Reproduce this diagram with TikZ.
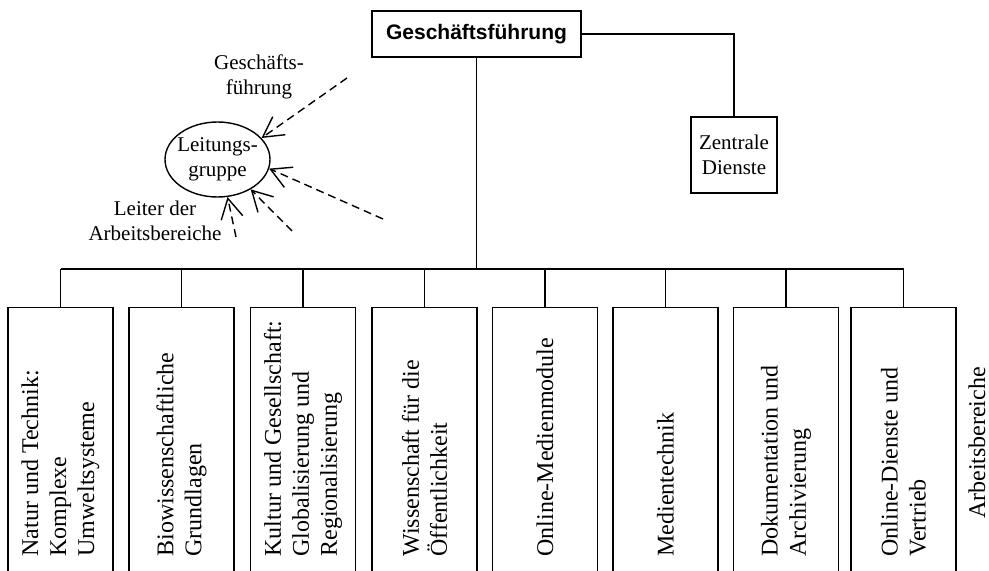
\documentclass[tikz,border=0pt]{standalone}
\usepackage{fontspec}
\setmainfont{Liberation Serif}
\newfontfamily\arialfont{Liberation Sans}
\usetikzlibrary{arrows.meta,shapes.geometric}

\tikzset{
  verb/.style={line width=0.7pt},
  chef/.style={draw, line width=0.7pt, minimum width=104.5pt, minimum height=23pt,
    inner sep=0pt, font=\arialfont\bfseries\fontsize{10.5}{12}\selectfont},
  stab/.style={draw, line width=0.7pt, minimum width=43pt, minimum height=38pt,
    inner sep=0pt, align=center, font=\fontsize{10.5}{12.5}\selectfont},
  leitung/.style={draw, ellipse, line width=0.7pt, minimum width=52.5pt, minimum height=37.5pt,
    inner sep=-2pt, align=center, font=\fontsize{10.5}{12.5}\selectfont},
  bereich/.style={draw, line width=0.7pt, anchor=north, minimum width=52.5pt,
    minimum height=140pt, inner sep=0pt},
  btext/.style={rotate=90, anchor=west, align=left, inner sep=0pt,
    font=\fontsize{12}{14}\selectfont},
  notiz/.style={align=center, inner sep=0pt, font=\fontsize{10.5}{12.5}\selectfont},
  lead/.style={line width=0.7pt, dash pattern=on 4pt off 2.5pt,
    -{Straight Barb[length=10pt,width=11pt]}}
}

\begin{document}
\begin{tikzpicture}[x=0.5pt,y=-0.5pt]
    \useasboundingbox (0,0) rectangle (989,571);

    % Leitung
    \node[chef] (gf) at (476.5,34) {Geschäftsführung};
    \node[stab] (zd) at (734,155) {Zentrale\\Dienste};
    \draw[verb] (gf.east) -| (zd.north);

    % Leitungsgruppe
    \node[leitung] (lg) at (217.5,159.5) {Leitungs-\\gruppe};
    \node[notiz] (gfn) at (259,77) {Geschäfts-\\führung};
    \node[notiz] (lan) at (155,221) {Leiter der\\Arbeitsbereiche};
    \coordinate (a1) at (347,78);
    \coordinate (a2) at (383,219);
    \coordinate (a3) at (292,231);
    \coordinate (a4) at (236,237);
    \draw[lead] (a1) -- (lg.26);
    \draw[lead] (a2) -- (lg.-10);
    \draw[lead] (a3) -- (lg.-42);
    \draw[lead] (a4) -- (lg.-75);

    % Arbeitsbereiche
    \coordinate (bar) at (0,269);
    \foreach \n/\x/\t in {
        1/60.5/{Natur und Technik:\\Komplexe\\Umweltsysteme},
        2/181.5/{Biowissenschaftliche\\Grundlagen},
        3/303/{Kultur und Gesellschaft:\\Globalisierung und\\Regionalisierung},
        4/424.5/{Wissenschaft für die\\Öffentlichkeit},
        5/545/{Online-Medienmodule},
        6/665.5/{Medientechnik},
        7/786/{Dokumentation und\\Archivierung},
        8/903.5/{Online-Dienste und\\Vertrieb}}
    {
        \node[bereich] (b\n) at (\x,307) {};
        \node[btext] (t\n) at (\x,557) {\t};
        \draw[verb] (b\n.north) -- (b\n.north |- bar);
    }
    \draw[verb] (gf.south) -- (gf.south |- bar);
    \draw[verb] (b1.north |- bar) -- (b8.north |- bar);
    \node[btext, anchor=center] (ab) at (977,443) {Arbeitsbereiche};
\end{tikzpicture}
\end{document}
